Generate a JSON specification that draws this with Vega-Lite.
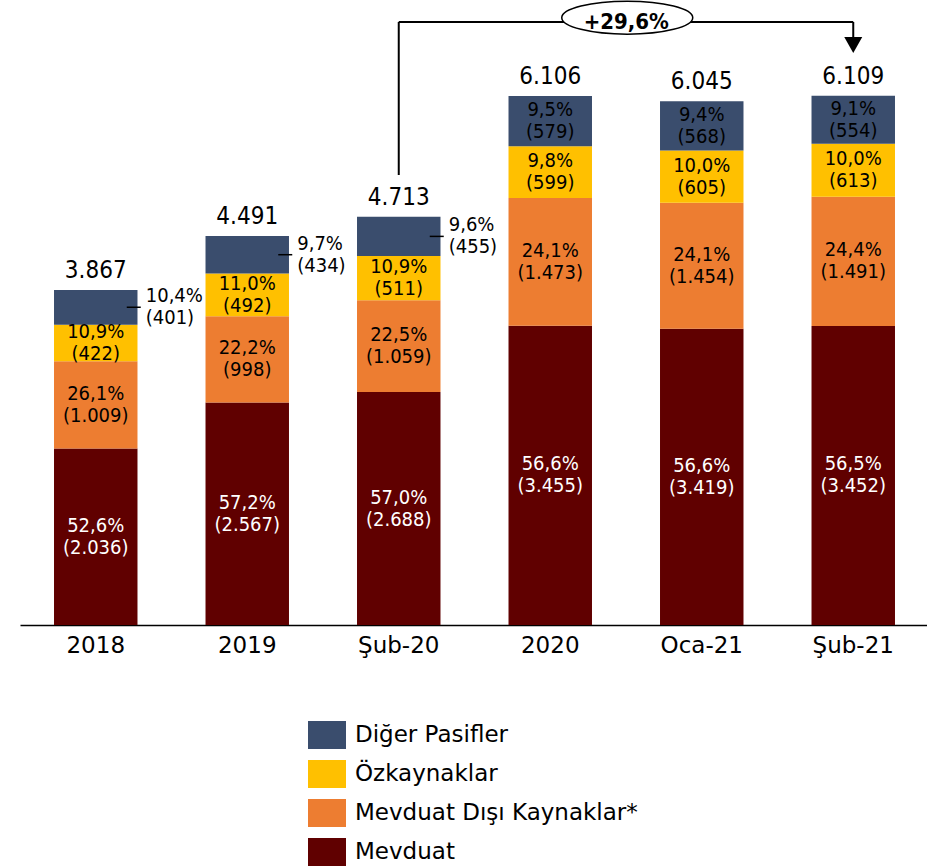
{
  "$schema": "https://vega.github.io/schema/vega-lite/v6.json",
  "width": 909,
  "height": 625,
  "autosize": "none",
  "padding": {"left": 20, "top": 0, "right": 0, "bottom": 243},
  "config": {
    "view": {"stroke": null},
    "text": {"font": "DejaVu Sans Condensed"}
  },
  "datasets": {
    "parts": [
      {"cat": "2018", "series": "Mevduat", "ord": 1, "value": 2036, "label": "52,6%\n(2.036)"},
      {"cat": "2018", "series": "Mevduat Dışı Kaynaklar*", "ord": 2, "value": 1009, "label": "26,1%\n(1.009)"},
      {"cat": "2018", "series": "Özkaynaklar", "ord": 3, "value": 422, "label": "10,9%\n(422)"},
      {"cat": "2018", "series": "Diğer Pasifler", "ord": 4, "value": 401, "label": "10,4%\n(401)"},
      {"cat": "2019", "series": "Mevduat", "ord": 1, "value": 2567, "label": "57,2%\n(2.567)"},
      {"cat": "2019", "series": "Mevduat Dışı Kaynaklar*", "ord": 2, "value": 998, "label": "22,2%\n(998)"},
      {"cat": "2019", "series": "Özkaynaklar", "ord": 3, "value": 492, "label": "11,0%\n(492)"},
      {"cat": "2019", "series": "Diğer Pasifler", "ord": 4, "value": 434, "label": "9,7%\n(434)"},
      {"cat": "Şub-20", "series": "Mevduat", "ord": 1, "value": 2688, "label": "57,0%\n(2.688)"},
      {"cat": "Şub-20", "series": "Mevduat Dışı Kaynaklar*", "ord": 2, "value": 1059, "label": "22,5%\n(1.059)"},
      {"cat": "Şub-20", "series": "Özkaynaklar", "ord": 3, "value": 511, "label": "10,9%\n(511)"},
      {"cat": "Şub-20", "series": "Diğer Pasifler", "ord": 4, "value": 455, "label": "9,6%\n(455)"},
      {"cat": "2020", "series": "Mevduat", "ord": 1, "value": 3455, "label": "56,6%\n(3.455)"},
      {"cat": "2020", "series": "Mevduat Dışı Kaynaklar*", "ord": 2, "value": 1473, "label": "24,1%\n(1.473)"},
      {"cat": "2020", "series": "Özkaynaklar", "ord": 3, "value": 599, "label": "9,8%\n(599)"},
      {"cat": "2020", "series": "Diğer Pasifler", "ord": 4, "value": 579, "label": "9,5%\n(579)"},
      {"cat": "Oca-21", "series": "Mevduat", "ord": 1, "value": 3419, "label": "56,6%\n(3.419)"},
      {"cat": "Oca-21", "series": "Mevduat Dışı Kaynaklar*", "ord": 2, "value": 1454, "label": "24,1%\n(1.454)"},
      {"cat": "Oca-21", "series": "Özkaynaklar", "ord": 3, "value": 605, "label": "10,0%\n(605)"},
      {"cat": "Oca-21", "series": "Diğer Pasifler", "ord": 4, "value": 568, "label": "9,4%\n(568)"},
      {"cat": "Şub-21", "series": "Mevduat", "ord": 1, "value": 3452, "label": "56,5%\n(3.452)"},
      {"cat": "Şub-21", "series": "Mevduat Dışı Kaynaklar*", "ord": 2, "value": 1491, "label": "24,4%\n(1.491)"},
      {"cat": "Şub-21", "series": "Özkaynaklar", "ord": 3, "value": 613, "label": "10,0%\n(613)"},
      {"cat": "Şub-21", "series": "Diğer Pasifler", "ord": 4, "value": 554, "label": "9,1%\n(554)"}
    ],
    "totals": [
      {"cat": "2018", "total": 3867, "label": "3.867"},
      {"cat": "2019", "total": 4491, "label": "4.491"},
      {"cat": "Şub-20", "total": 4713, "label": "4.713"},
      {"cat": "2020", "total": 6106, "label": "6.106"},
      {"cat": "Oca-21", "total": 6045, "label": "6.045"},
      {"cat": "Şub-21", "total": 6109, "label": "6.109"}
    ]
  },
  "layer": [
    {
      "data": {"name": "parts"},
      "mark": {"type": "bar"},
      "encoding": {
        "x": {
          "field": "cat", "type": "nominal", "sort": null,
          "scale": {"domain": ["2018", "2019", "Şub-20", "2020", "Oca-21", "Şub-21"], "paddingInner": 0.449, "paddingOuter": 0.2245},
          "axis": {"title": null, "domainColor": "black", "domainWidth": 1.5, "ticks": false, "labelFont": "DejaVu Sans", "labelFontSize": 23, "labelColor": "black", "labelPadding": 9, "labelAngle": 0}
        },
        "y": {"field": "value", "type": "quantitative", "stack": "zero", "scale": {"domain": [0, 7214], "nice": false}, "axis": null},
        "color": {
          "field": "series", "type": "nominal",
          "scale": {"domain": ["Diğer Pasifler", "Özkaynaklar", "Mevduat Dışı Kaynaklar*", "Mevduat"], "range": ["#3A4D6D", "#FFC000", "#ED7D31", "#600000"]},
          "legend": {
            "title": null, "orient": "none", "legendX": 288, "legendY": 716, "padding": 0,
            "symbolType": "M-1,-0.737H1V0.737H-1Z", "symbolSize": 1444, "symbolStrokeWidth": 0, "symbolOpacity": 1,
            "labelFont": "DejaVu Sans", "labelFontSize": 23, "labelColor": "black", "labelOffset": 9, "rowPadding": 5, "labelLimit": 500
          }
        },
        "order": {"field": "ord", "type": "quantitative"}
      }
    },
    {
      "data": {"name": "parts"},
      "mark": {"type": "text", "fontSize": 20, "lineBreak": "\n", "lineHeight": 22, "baseline": "middle", "dy": -11},
      "encoding": {
        "x": {"field": "cat", "type": "nominal", "sort": null},
        "y": {"field": "value", "type": "quantitative", "stack": "zero", "bandPosition": 0.5},
        "detail": {"field": "series"},
        "order": {"field": "ord", "type": "quantitative"},
        "text": {"condition": {"test": "datum.series === 'Diğer Pasifler' && indexof(['2018','2019','Şub-20'], datum.cat) >= 0", "value": ""}, "field": "label"},
        "color": {"condition": {"test": "datum.series === 'Mevduat'", "value": "white"}, "value": "black"}
      }
    },
    {
      "data": {"name": "parts"},
      "mark": {"type": "text", "fontSize": 20, "lineBreak": "\n", "lineHeight": 22, "baseline": "middle", "align": "left", "dx": 50, "dy": -11, "color": "black"},
      "encoding": {
        "x": {"field": "cat", "type": "nominal", "sort": null},
        "y": {"field": "value", "type": "quantitative", "stack": "zero", "bandPosition": 0.5},
        "detail": {"field": "series"},
        "order": {"field": "ord", "type": "quantitative"},
        "text": {"condition": {"test": "datum.series === 'Diğer Pasifler' && indexof(['2018','2019','Şub-20'], datum.cat) >= 0", "field": "label"}, "value": ""}
      }
    },
    {
      "data": {"name": "parts"},
      "mark": {"type": "tick", "orient": "horizontal", "size": 14, "thickness": 1.5, "xOffset": 38, "color": "black"},
      "encoding": {
        "x": {"field": "cat", "type": "nominal", "sort": null},
        "y": {"field": "value", "type": "quantitative", "stack": "zero", "bandPosition": 0.5},
        "detail": {"field": "series"},
        "order": {"field": "ord", "type": "quantitative"},
        "opacity": {"condition": {"test": "datum.series === 'Diğer Pasifler' && indexof(['2018','2019','Şub-20'], datum.cat) >= 0", "value": 1}, "value": 0}
      }
    },
    {
      "data": {"name": "totals"},
      "mark": {"type": "text", "fontSize": 24, "baseline": "alphabetic", "dy": -12, "color": "black"},
      "encoding": {
        "x": {"field": "cat", "type": "nominal", "sort": null},
        "y": {"field": "total", "type": "quantitative"},
        "text": {"field": "label"}
      }
    },
    {
      "data": {"values": [{}]},
      "mark": {"type": "rule", "strokeWidth": 2, "color": "black"},
      "encoding": {"x": {"datum": "Şub-20"}, "y": {"datum": 5194}, "y2": {"datum": 6960}}
    },
    {
      "data": {"values": [{}]},
      "mark": {"type": "rule", "strokeWidth": 2, "color": "black"},
      "encoding": {"x": {"datum": "Şub-20"}, "x2": {"datum": "Şub-21"}, "y": {"datum": 6960}}
    },
    {
      "data": {"values": [{}]},
      "mark": {"type": "rule", "strokeWidth": 2, "color": "black"},
      "encoding": {"x": {"datum": "Şub-21"}, "y": {"datum": 6960}, "y2": {"datum": 6780}}
    },
    {
      "data": {"values": [{}]},
      "mark": {"type": "point", "shape": "M-1,-0.89L1,-0.89L0,0.89Z", "size": 324, "filled": true, "color": "black", "opacity": 1},
      "encoding": {"x": {"datum": "Şub-21"}, "y": {"datum": 6694}}
    },
    {
      "data": {"values": [{}]},
      "mark": {"type": "point", "shape": "M-1,0A1,0.252 0 1,1 1,0A1,0.252 0 1,1 -1,0Z", "size": 17161, "filled": true, "fill": "white", "stroke": "black", "strokeWidth": 1.5, "opacity": 1, "xOffset": 77},
      "encoding": {"x": {"datum": "2020"}, "y": {"datum": 7010}}
    },
    {
      "data": {"values": [{}]},
      "mark": {"type": "text", "font": "DejaVu Sans Condensed", "fontWeight": "bold", "fontSize": 22, "baseline": "middle", "xOffset": 76, "color": "black", "text": "+29,6%"},
      "encoding": {"x": {"datum": "2020"}, "y": {"datum": 6960}}
    }
  ]
}
